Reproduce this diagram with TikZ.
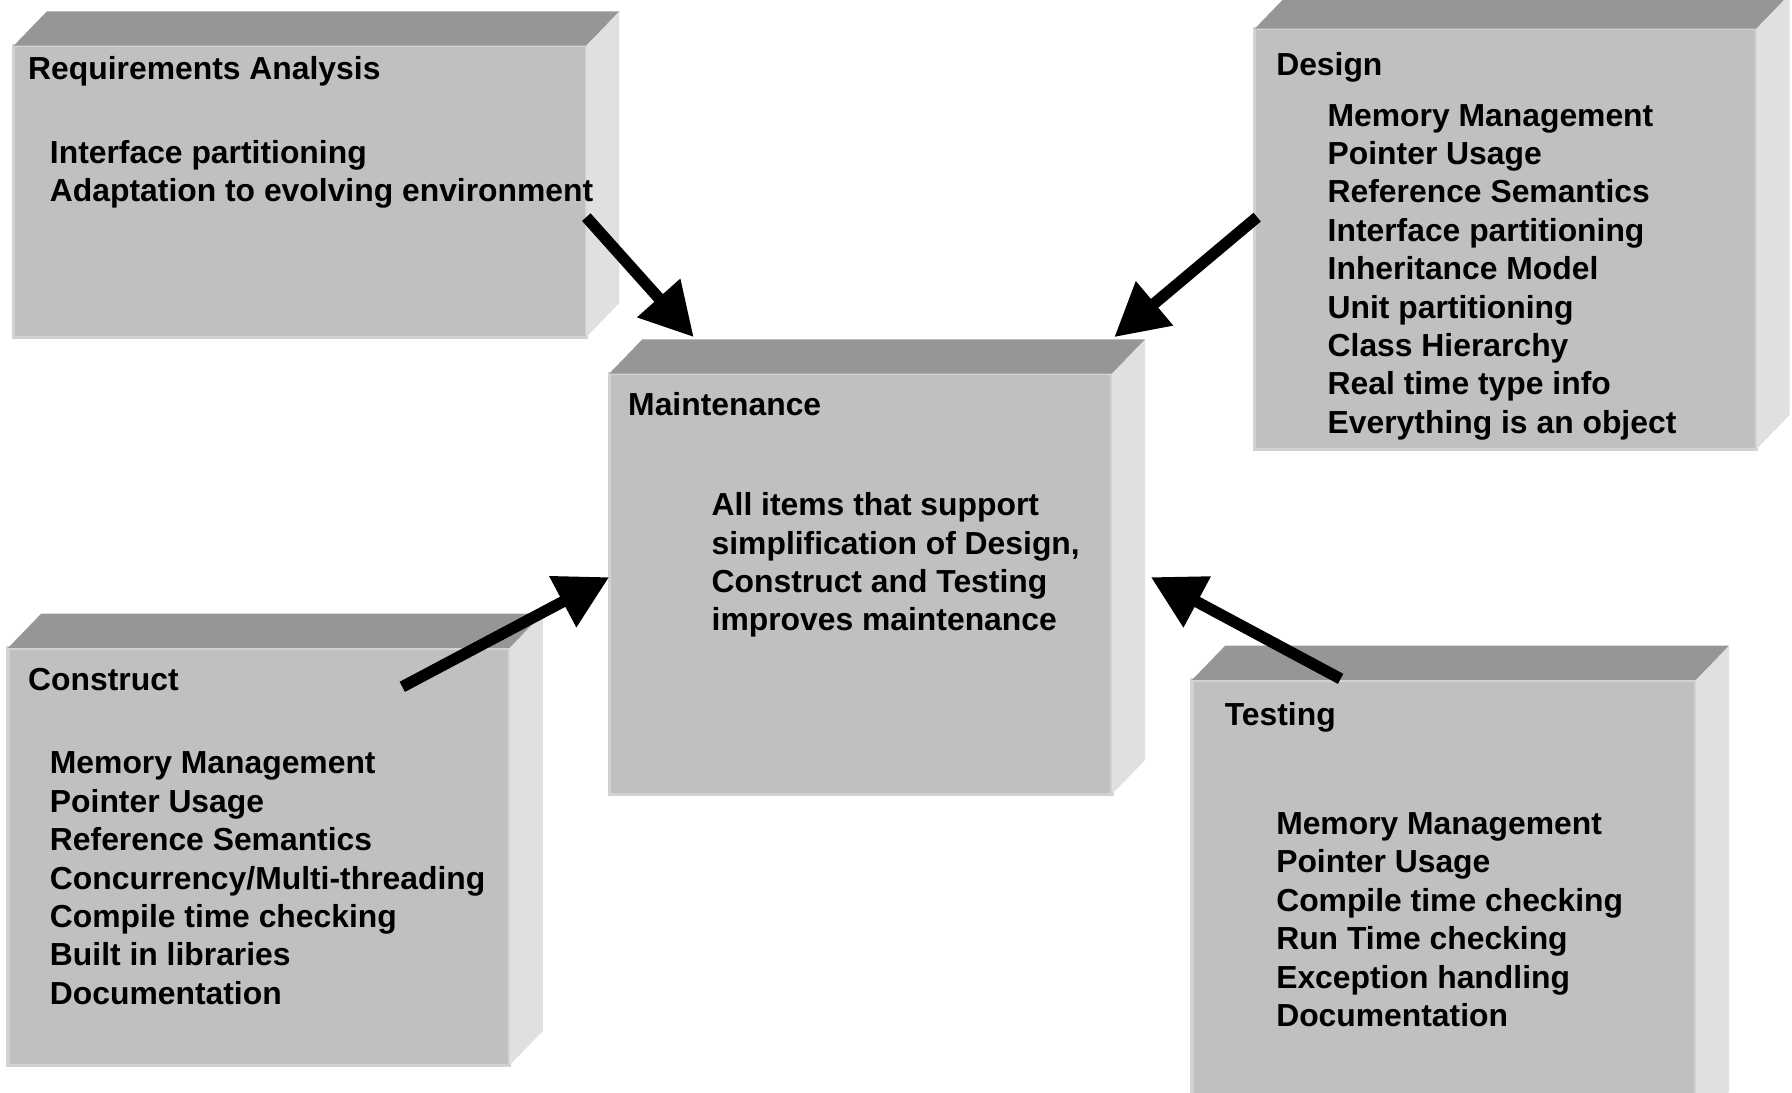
\documentclass[tikz,border=0pt]{standalone}
\usepackage{fontspec}
\setmainfont{Liberation Sans}
\usetikzlibrary{arrows.meta}

\definecolor{topgray}{HTML}{969696}
\definecolor{frontgray}{HTML}{C0C0C0}
\definecolor{sidegray}{HTML}{E0E0E0}
\definecolor{rimgray}{HTML}{D2D2D2}

\tikzset{
  front/.style={fill=frontgray, draw=rimgray, line width=0.8pt, inner sep=0pt, outer sep=0pt, anchor=south west},
  txt/.style={font=\fontsize{7.93}{9.6}\selectfont\bfseries, inner sep=0pt, anchor=base west},
  bigarrow/.style={line width=0.1cm, -{Triangle[length=0.46cm, width=0.48cm]}},
}

% top and side faces of a block, from the front node
\newcommand{\slab}[1]{%
  \fill[topgray] (#1.north west) -- ++(0.29,0.3) -- ([shift={(0.29,0.3)}]#1.north east) -- (#1.north east) -- cycle;
  \fill[sidegray] (#1.north east) -- ++(0.29,0.3) -- ([shift={(0.29,0.3)}]#1.south east) -- (#1.south east) -- cycle;}

\begin{document}
\begin{tikzpicture}
    \useasboundingbox (0,0) rectangle (15.68,9.56);
    \clip (0,0) rectangle (15.68,9.56);

    % blocks
    \node[front, minimum width=5.01cm, minimum height=2.55cm] (req) at (0.12,6.61) {};
    \slab{req}
    \node[front, minimum width=4.39cm, minimum height=3.68cm] (des) at (10.98,5.63) {};
    \slab{des}
    \node[front, minimum width=4.40cm, minimum height=3.68cm] (maint) at (5.33,2.61) {};
    \slab{maint}
    \node[front, minimum width=4.39cm, minimum height=3.65cm] (constr) at (0.07,0.24) {};
    \slab{constr}
    \node[front, minimum width=4.41cm, minimum height=3.90cm] (test) at (10.43,-0.29) {};
    \slab{test}

    % Requirements Analysis
    \node[txt] (reqT) at (0.24,8.86) {Requirements Analysis};
    \node[txt] (req1) at (0.43,8.13) {Interface partitioning};
    \node[txt] (req2) at (0.43,7.80) {Adaptation to evolving environment};

    % Design
    \node[txt] (desT) at (11.16,8.90) {Design};
    \foreach \t [count=\i] in {Memory Management, Pointer Usage, Reference Semantics,
        Interface partitioning, Inheritance Model, Unit partitioning, Class Hierarchy,
        Real time type info, Everything is an object}
      \node[txt] (des\i) at (11.61,{8.792-0.336*\i}) {\t};

    % Maintenance
    \node[txt] (maintT) at (5.49,5.92) {Maintenance};
    \foreach \t [count=\i] in {All items that support, {simplification of Design,},
        Construct and Testing, improves maintenance}
      \node[txt] (maint\i) at (6.22,{5.384-0.336*\i}) {\t};

    % Construct
    \node[txt] (constrT) at (0.24,3.52) {Construct};
    \foreach \t [count=\i] in {Memory Management, Pointer Usage, Reference Semantics,
        Concurrency/Multi-threading, Compile time checking, Built in libraries, Documentation}
      \node[txt] (constr\i) at (0.43,{3.124-0.336*\i}) {\t};

    % Testing
    \node[txt] (testT) at (10.71,3.21) {Testing};
    \foreach \t [count=\i] in {Memory Management, Pointer Usage, Compile time checking,
        Run Time checking, Exception handling, Documentation}
      \node[txt] (test\i) at (11.16,{2.594-0.336*\i}) {\t};

    % arrows into Maintenance
    \coordinate (reqout) at (5.13,7.66);
    \coordinate (desout) at (11.00,7.66);
    \coordinate (constrout) at (3.52,3.55);
    \coordinate (testout) at (11.73,3.62);
    \coordinate (maintNW) at (6.07,6.61);
    \coordinate (maintNE) at (9.75,6.61);
    \coordinate (maintW) at (5.33,4.51);
    \coordinate (maintE) at (10.07,4.51);
    \draw [bigarrow] (reqout) -- (maintNW);
    \draw [bigarrow] (desout) -- (maintNE);
    \draw [bigarrow] (constrout) -- (maintW);
    \draw [bigarrow] (testout) -- (maintE);
\end{tikzpicture}
\end{document}
